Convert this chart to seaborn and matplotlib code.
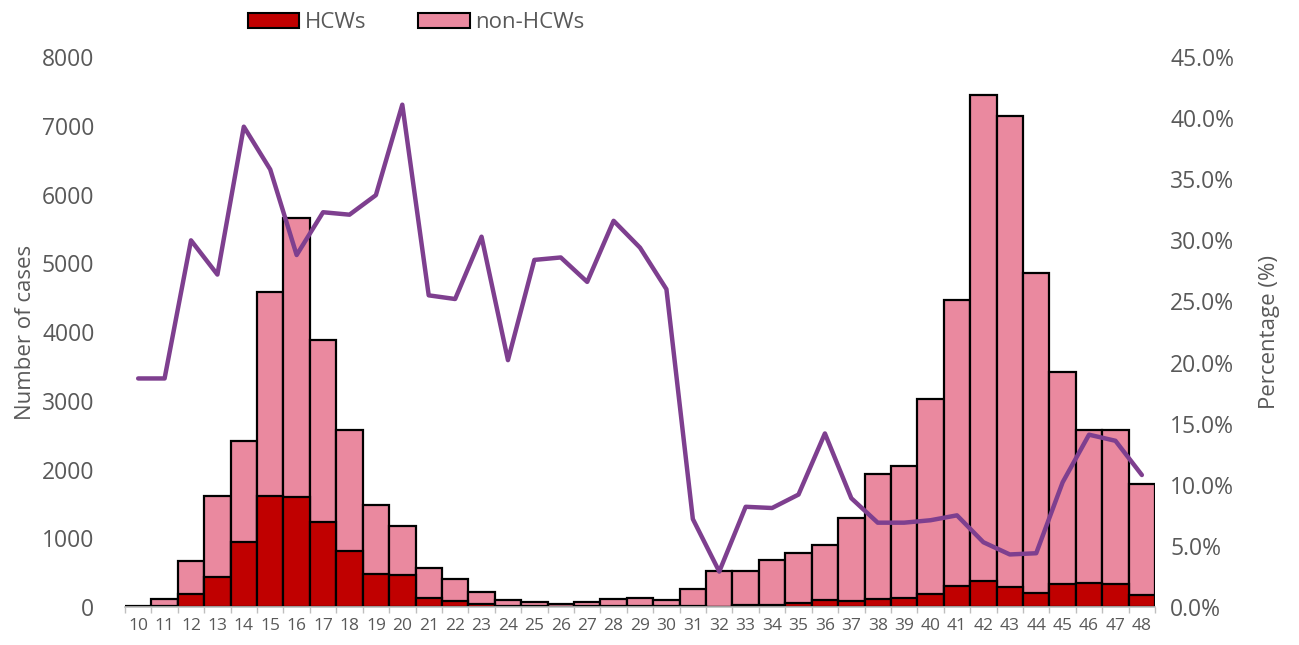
import numpy as np
import pandas as pd
import seaborn as sns
import matplotlib.pyplot as plt
from matplotlib.patches import Patch
from matplotlib.ticker import PercentFormatter

# weekly data
weeks = list(range(10, 49))
total_cases = [15, 120, 670, 1610, 2420, 4575, 5665, 3890, 2575, 1485, 1175, 570,
               410, 215, 95, 80, 45, 70, 122, 138, 102, 268, 520, 522, 690, 780,
               900, 1295, 1940, 2052, 3030, 4462, 7444, 7138, 4852, 3423, 2575,
               2571, 1795]
hcw_cases = [3, 15, 190, 435, 940, 1613, 1605, 1240, 810, 475, 462, 135,
             92, 50, 10, 8, 5, 8, 15, 18, 10, 8, 5, 26, 36, 52,
             104, 88, 114, 125, 182, 312, 379, 296, 197, 332, 348,
             338, 171]
hcw_pct = [18.7, 18.7, 30.0, 27.2, 39.3, 35.8, 28.8, 32.3, 32.1, 33.7, 41.1, 25.5,
           25.2, 30.3, 20.2, 28.4, 28.6, 26.6, 31.6, 29.4, 26.0, 7.2, 2.9, 8.2,
           8.1, 9.2, 14.2, 8.9, 6.9, 6.9, 7.1, 7.5, 5.3, 4.3, 4.4, 10.2, 14.1,
           13.6, 10.8]

df = pd.DataFrame({"week": [str(w) for w in weeks], "total": total_cases,
                   "hcw": hcw_cases, "pct": hcw_pct})

red = "#C00000"
pink = "#EA899F"
purple = "#7E3F8F"
grey = "#595959"

sns.set_theme(style="white")
plt.rcParams['font.family'] = ['Open Sans', 'DejaVu Sans']

fig = plt.figure(figsize=(12.99, 6.45), dpi=100)
ax = fig.add_axes([0.0962, 0.0589, 0.793, 0.8527])

sns.barplot(data=df, x="week", y="total", color=pink, width=1.0,
            edgecolor="black", linewidth=1.6, saturation=1, ax=ax)
sns.barplot(data=df, x="week", y="hcw", color=red, width=1.0,
            edgecolor="black", linewidth=1.6, saturation=1, ax=ax)

n = len(weeks)
ax.set_ylim(0, 8000)
ax.set_xlim(-0.5, n - 0.5)
ax.set_yticks(range(0, 8001, 1000))
ax.set_xticks(np.arange(-0.5, n), minor=True)
ax.set_xlabel("")
ax.set_ylabel("Number of cases", fontsize=16, color=grey, labelpad=4)
ax.tick_params(axis="y", labelsize=16.5, labelcolor=grey, length=0, pad=22)
ax.tick_params(axis="x", which="major", labelsize=12.5, labelcolor=grey,
               length=0, pad=8)
ax.tick_params(axis="x", which="minor", length=4, width=1, color="#BFBFBF",
               bottom=True)
for s in ["top", "left", "right"]:
    ax.spines[s].set_visible(False)
ax.spines["bottom"].set_color("#BFBFBF")
ax.spines["bottom"].set_linewidth(1.2)

ax2 = ax.twinx()
sns.lineplot(x=np.arange(n), y=df["pct"], color=purple, linewidth=3.2, ax=ax2)
ax2.set_ylim(0, 45)
ax2.set_yticks(np.arange(0, 45.1, 5))
ax2.yaxis.set_major_formatter(PercentFormatter(decimals=1))
ax2.set_ylabel("Percentage (%)", fontsize=16, color=grey, labelpad=18)
ax2.tick_params(axis="y", labelsize=16.5, labelcolor=grey, length=0, pad=11)
for s in ["top", "left", "right", "bottom"]:
    ax2.spines[s].set_visible(False)
ax2.set_xlim(-0.5, n - 0.5)

handles = [Patch(facecolor=red, edgecolor="black", linewidth=1.5, label="HCWs"),
           Patch(facecolor=pink, edgecolor="black", linewidth=1.5, label="non-HCWs")]
leg = fig.legend(handles=handles, loc="center left",
                 bbox_to_anchor=(248 / 1299, 0.965), borderaxespad=0,
                 borderpad=0, ncol=2, frameon=False, fontsize=16,
                 handlelength=2.3, handleheight=0.7, handletextpad=0.25,
                 columnspacing=2.35)
for t in leg.get_texts():
    t.set_color(grey)

fig.savefig("out.png", dpi=100)
